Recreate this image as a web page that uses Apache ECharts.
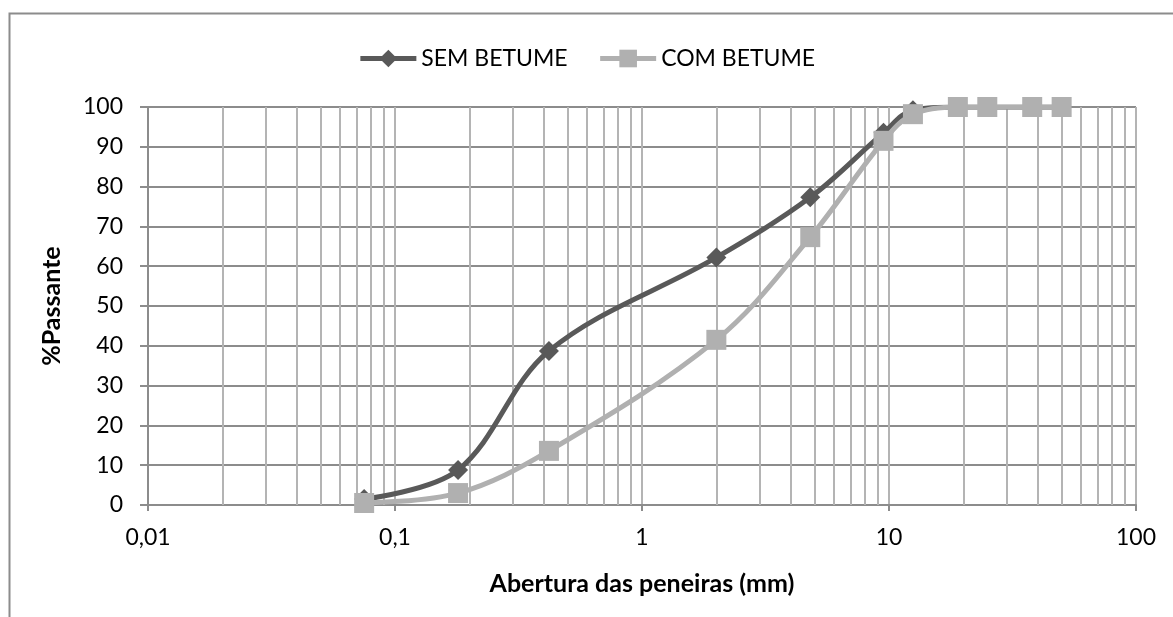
<!DOCTYPE html>
<html>
<head>
<meta charset="utf-8">
<script src="https://cdn.jsdelivr.net/npm/echarts@6/dist/echarts.min.js"></script>
<style>
  html, body { margin: 0; padding: 0; background: #fff; }
  #chart { width: 1173px; height: 617px; }
</style>
</head>
<body>
<div id="chart"></div>
<script>
// Sieve openings (mm) and cumulative percent passing
const sieveSizes = [0.075, 0.18, 0.42, 2.0, 4.8, 9.5, 12.5, 19, 25, 38, 50];
const semBetume = [1.5, 8.8, 38.7, 62.2, 77.3, 93.5, 99.2, 100, 100, 100, 100];
const comBetume = [0.5, 3.0, 13.6, 41.5, 67.3, 91.5, 98.2, 100, 100, 100, 100];
const seriesNames = ['SEM BETUME', 'COM BETUME'];
const xTitle = 'Abertura das peneiras (mm)';
const yTitle = '%Passante';

const FONT = 'Lato';

// Minor vertical grid lines at 2..9 within each decade of the log axis
const minorLines = [];
for (const dec of [0.01, 0.1, 1, 10]) {
  for (let k = 2; k <= 9; k++) minorLines.push({ xAxis: +(k * dec).toPrecision(3) });
}

const pairs = (ys) => sieveSizes.map((x, i) => [x, ys[i]]);

const chart = echarts.init(document.getElementById('chart'), null, { renderer: 'canvas' });
chart.setOption({
  animation: false,
  backgroundColor: '#ffffff',
  textStyle: { fontFamily: FONT },
  graphic: [{
    type: 'polyline',
    shape: { points: [[9.5, 617], [9.5, 13.5], [1173, 13.5]] },
    style: { stroke: '#8c8c8c', lineWidth: 2, fill: null },
    silent: true
  }],
  legend: {
    top: 42,
    left: 'center',
    itemWidth: 56,
    itemHeight: 22,
    itemGap: 30,
    lineStyle: { width: 5 },
    textStyle: { fontFamily: FONT, fontSize: 23, color: '#000' },
    data: seriesNames
  },
  grid: { left: 148, right: 37, top: 107, bottom: 112, containLabel: false },
  xAxis: {
    type: 'log',
    logBase: 10,
    min: 0.01,
    max: 100,
    name: xTitle,
    nameLocation: 'middle',
    nameGap: 66,
    nameTextStyle: { fontFamily: FONT, fontSize: 25, fontWeight: 'bold', color: '#000' },
    axisLine: { show: true, lineStyle: { color: '#8c8c8c', width: 2 } },
    axisTick: { show: true, length: 6, lineStyle: { color: '#8c8c8c', width: 2 } },
    axisLabel: {
      margin: 21,
      fontFamily: FONT, fontSize: 23, color: '#000',
      formatter: (v) => String(+v.toPrecision(3)).replace('.', ',')
    },
    splitLine: { show: true, lineStyle: { color: '#b4b4b4', width: 2 } }
  },
  yAxis: {
    type: 'value',
    min: 0,
    max: 100,
    interval: 10,
    name: yTitle,
    nameLocation: 'middle',
    nameGap: 84,
    nameTextStyle: { fontFamily: FONT, fontSize: 25, fontWeight: 'bold', color: '#000' },
    axisLine: { show: true, lineStyle: { color: '#8c8c8c', width: 2 } },
    axisTick: { show: true, inside: false, length: 8, lineStyle: { color: '#8c8c8c', width: 2 } },
    axisLabel: { margin: 25, fontFamily: FONT, fontSize: 23, color: '#000' },
    splitLine: { show: true, lineStyle: { color: '#8c8c8c', width: 2 } }
  },
  series: [
    {
      name: seriesNames[1],
      type: 'line',
      smooth: 0.35,
      data: pairs(comBetume),
      symbol: 'rect',
      symbolSize: 20,
      itemStyle: { color: '#b0b0b0' },
      lineStyle: { color: '#b0b0b0', width: 5 },
      z: 3,
      markLine: {
        silent: true,
        symbol: 'none',
        label: { show: false },
        lineStyle: { type: 'solid', color: '#b4b4b4', width: 2 },
        data: minorLines,
        z: 1
      }
    },
    {
      name: seriesNames[0],
      type: 'line',
      smooth: 0.35,
      data: pairs(semBetume),
      symbol: 'diamond',
      symbolSize: 20,
      itemStyle: { color: '#595959' },
      lineStyle: { color: '#595959', width: 5 },
      z: 2
    }
  ]
});
</script>
</body>
</html>
